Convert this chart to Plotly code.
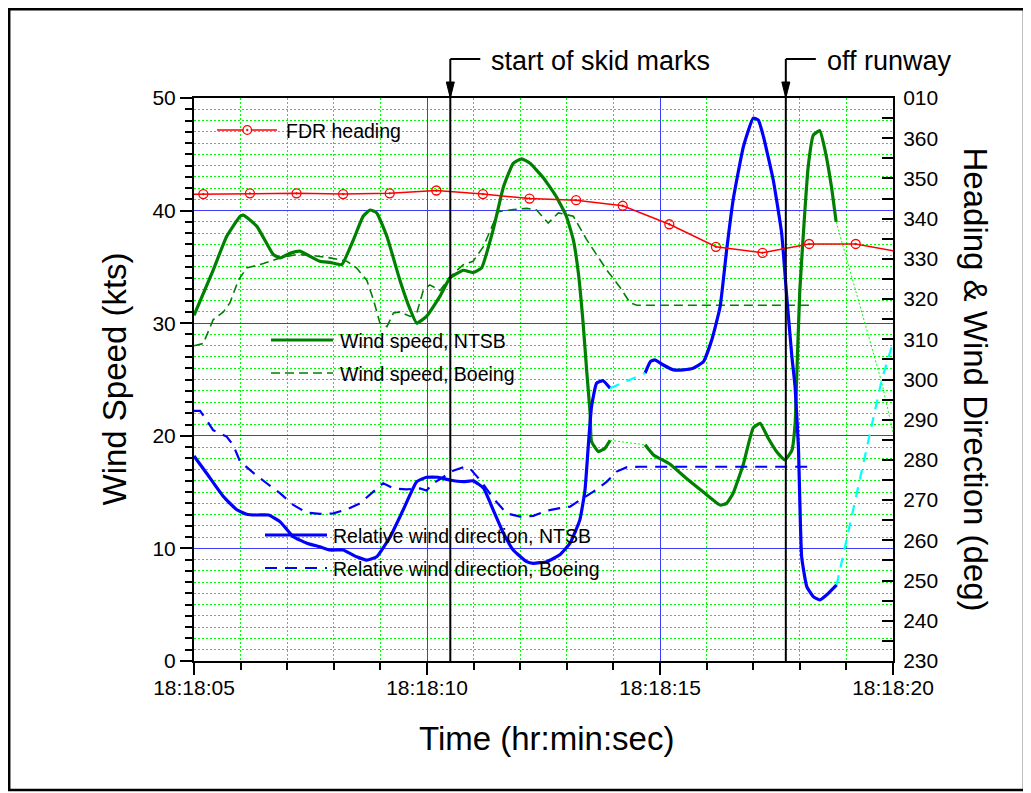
import plotly.graph_objects as go

# ---------------- data (time = seconds after 18:18:05) ----------------
x_tickvals = [0, 5, 10, 15]
x_ticktext = ["18:18:05", "18:18:10", "18:18:15", "18:18:20"]
y2_tickvals = list(range(230, 371, 10))
y2_ticktext = [str(v) for v in range(230, 361, 10)] + ["010"]

event_times = [5.5, 12.7]
event_labels = ["start of skid marks", "off runway"]

# FDR heading (deg, right axis)
fdr_t = [-0.8, 0.2, 1.2, 2.2, 3.2, 4.2, 5.2, 6.2, 7.2, 8.2, 9.2, 10.2, 11.2, 12.2, 13.2, 14.2, 15.2]
fdr_hdg = [346.0, 346.1, 346.3, 346.3, 346.1, 346.3, 347.0, 346.1, 345.0, 344.6, 343.2, 338.6,
           333.0, 331.5, 333.7, 333.7, 331.6]

# Wind speed, NTSB (kts, left axis) - two recorded segments
ntsb_spd_t1 = [0.0, 0.41, 0.70, 0.99, 1.06, 1.35, 1.70, 1.85, 2.06, 2.27, 2.42, 2.70, 2.92, 3.17,
               3.42, 3.63, 3.78, 3.92, 4.14, 4.42, 4.64, 4.78, 4.99, 5.28, 5.49, 5.78, 5.99, 6.17,
               6.42, 6.64, 6.85, 7.03, 7.21, 7.50, 7.78, 7.99, 8.14, 8.25, 8.35, 8.43, 8.50, 8.53,
               8.68, 8.82, 8.93]
ntsb_spd_1 = [30.7, 34.7, 37.7, 39.5, 39.6, 38.6, 36.1, 35.8, 36.2, 36.4, 36.1, 35.5, 35.4, 35.2,
              37.4, 39.5, 40.05, 39.8, 37.7, 33.8, 31.2, 30.0, 30.6, 32.4, 34.0, 34.7, 34.5, 34.9,
              38.3, 42.1, 44.2, 44.6, 44.2, 42.9, 41.2, 39.5, 37.4, 34.4, 30.0, 25.6, 22.0, 19.5,
              18.6, 18.9, 19.6]
ntsb_spd_t2 = [9.68, 9.86, 10.21, 10.57, 10.93, 11.29, 11.43, 11.57, 11.79, 12.0, 12.15, 12.32,
               12.50, 12.68, 12.83, 12.90, 12.93, 13.0, 13.11, 13.18, 13.29, 13.43, 13.54, 13.68, 13.78]
ntsb_spd_2 = [19.2, 18.3, 17.5, 16.2, 15.0, 13.85, 14.0, 14.9, 17.5, 20.7, 21.1, 19.8,
              18.6, 17.85, 18.7, 21.1, 24.7, 32.9, 40.05, 43.9, 46.7, 47.1, 45.4, 42.1, 39.0]
ntsb_spd_tail_t = [14.76, 15.1]
ntsb_spd_tail = [24.7, 18.5]

# Wind speed, Boeing (kts, left axis)
boe_spd_t = [0.0, 0.2, 0.41, 0.63, 0.77, 0.95, 1.13, 1.49, 1.85, 2.20, 2.56, 2.92, 3.28, 3.49,
             3.71, 3.85, 3.99, 4.14, 4.28, 4.42, 4.64, 4.78, 4.92, 5.06, 5.28, 5.49, 5.78, 5.99,
             6.21, 6.42, 6.53, 6.85, 7.14, 7.35, 7.60, 7.82, 8.14, 8.43, 8.86, 9.14, 9.36, 9.50, 13.22]
boe_spd = [28.0, 28.2, 30.3, 31.0, 31.8, 33.8, 34.9, 35.3, 35.8, 36.1, 36.0, 35.8, 35.5, 34.9,
           33.8, 32.1, 30.0, 29.7, 30.9, 31.0, 30.6, 30.9, 32.9, 33.4, 32.9, 34.1, 35.2, 35.5,
           36.8, 38.9, 39.9, 40.1, 40.2, 40.05, 38.9, 39.8, 39.5, 37.4, 34.7, 33.2, 31.8, 31.6, 31.6]

# Relative wind direction, NTSB (deg, right axis)
ntsb_dir_t1 = [0.0, 0.27, 0.63, 0.92, 1.13, 1.35, 1.60, 1.85, 2.13, 2.42, 2.70, 2.92, 3.20, 3.49,
               3.71, 3.92, 4.21, 4.49, 4.78, 4.99, 5.24, 5.49, 5.78, 5.99, 6.21, 6.42, 6.64, 6.85,
               7.14, 7.28, 7.57, 7.85, 8.07, 8.28, 8.39, 8.46, 8.53, 8.64, 8.78, 8.93]
ntsb_dir_1 = [281.0, 276.7, 270.9, 267.6, 266.5, 266.3, 266.3, 264.6, 260.9, 259.3, 258.4, 257.6,
              257.6, 255.9, 255.1, 255.9, 260.9, 267.6, 274.6, 275.7, 275.7, 275.0, 274.6, 274.8,
              273.0, 267.6, 261.8, 257.6, 254.7, 254.3, 254.7, 256.4, 259.3, 265.1, 272.5, 283.3,
              293.2, 299.1, 299.7, 297.8]
ntsb_dir_t2 = [9.68, 9.79, 9.89, 10.07, 10.29, 10.50, 10.71, 10.93, 11.11, 11.29, 11.43, 11.57,
               11.79, 12.0, 12.11, 12.22, 12.43, 12.61, 12.72, 12.83, 12.90, 12.97, 13.04, 13.15,
               13.29, 13.43, 13.61, 13.79]
ntsb_dir_2 = [301.6, 304.4, 304.9, 303.6, 302.4, 302.4, 302.8, 304.4, 309.8, 318.1, 332.2, 344.7,
              357.9, 365.0, 364.5, 360.4, 349.6, 336.4, 320.6, 305.7, 298.0, 283.3, 255.9, 248.5,
              246.0, 245.2, 246.8, 248.9]
ntsb_dir_tail_t = [14.76, 15.1]
ntsb_dir_tail = [300.0, 313.0]

# Relative wind direction, Boeing (deg, right axis)
boe_dir_t = [0.0, 0.13, 0.27, 0.41, 0.70, 0.84, 0.99, 1.28, 1.56, 1.85, 2.13, 2.42, 2.70, 2.99,
             3.28, 3.56, 3.85, 4.06, 4.28, 4.56, 4.85, 4.99, 5.14, 5.35, 5.56, 5.78, 5.92, 6.14,
             6.42, 6.71, 7.0, 7.28, 7.57, 7.85, 8.07, 8.28, 8.57, 8.86, 9.07, 9.29, 9.57, 13.33]
boe_dir = [292.2, 292.2, 289.9, 287.4, 285.8, 283.7, 279.6, 276.7, 274.2, 271.7, 268.8, 266.9,
           266.6, 266.7, 267.7, 269.2, 272.1, 274.2, 272.9, 272.7, 272.9, 272.4, 274.2, 275.8,
           277.3, 278.2, 277.9, 275.0, 270.5, 266.7, 265.9, 266.1, 267.4, 268.0, 268.4, 270.0,
           272.1, 274.6, 277.1, 278.2, 278.3, 278.3]

# ---------------- layout geometry ----------------
# the page body has an 8 px margin, so the figure is 8 px smaller and offset by 8 px
OFF = 8
X0, X1, Y0, Y1 = 194, 893, 98, 661          # plot area in screenshot pixels
W, H = 1031 - OFF, 793 - OFF
ML, MT = X0 - OFF, Y0 - OFF
MR, MB = W - (X1 - OFF), H - (Y1 - OFF)
PW, PH = X1 - X0, Y1 - Y0
FONT = "Liberation Sans, Arial, sans-serif"


def px_x(x):
    return (x - X0) / PW


def px_y(y):
    return (Y1 - y) / PH


GREEN = "#008000"
BLUE = "#0000FF"
RED = "#FF0000"
CYAN = "#00FFFF"
LIME = "#00FF00"

fig = go.Figure()

# left-axis traces
fig.add_trace(go.Scatter(x=boe_spd_t, y=boe_spd, mode="lines",
                         line=dict(color=GREEN, width=1.6, dash="9px,5px")))
fig.add_trace(go.Scatter(x=ntsb_spd_t1 + [None] + ntsb_spd_t2, y=ntsb_spd_1 + [None] + ntsb_spd_2,
                         mode="lines", line=dict(color=GREEN, width=3.2, shape="spline", smoothing=0.4)))
fig.add_trace(go.Scatter(x=[ntsb_spd_t1[-1], ntsb_spd_t2[0], None, ntsb_spd_t2[-1]] + ntsb_spd_tail_t,
                         y=[ntsb_spd_1[-1], ntsb_spd_2[0], None, ntsb_spd_2[-1]] + ntsb_spd_tail,
                         mode="lines", line=dict(color=LIME, width=1, dash="2px,2px")))

# right-axis traces
fig.add_trace(go.Scatter(x=boe_dir_t, y=boe_dir, mode="lines", yaxis="y2",
                         line=dict(color=BLUE, width=2.2, dash="12px,8px")))
fig.add_trace(go.Scatter(x=ntsb_dir_t1 + [None] + ntsb_dir_t2, y=ntsb_dir_1 + [None] + ntsb_dir_2,
                         mode="lines", yaxis="y2",
                         line=dict(color=BLUE, width=3.2, shape="spline", smoothing=0.4)))
fig.add_trace(go.Scatter(x=[ntsb_dir_t1[-1], ntsb_dir_t2[0], None, ntsb_dir_t2[-1]] + ntsb_dir_tail_t,
                         y=[ntsb_dir_1[-1], ntsb_dir_2[0], None, ntsb_dir_2[-1]] + ntsb_dir_tail,
                         mode="lines", yaxis="y2", line=dict(color=CYAN, width=2.2, dash="10px,8px")))
fig.add_trace(go.Scatter(x=fdr_t, y=fdr_hdg, mode="lines+markers", yaxis="y2",
                         line=dict(color=RED, width=1.5),
                         marker=dict(symbol="circle-open-dot", size=9, color=RED, line=dict(width=1.3))))

axis_common = dict(showline=True, linecolor="black", linewidth=2, ticks="outside",
                   tickcolor="black", tickwidth=2, ticklen=12, zeroline=False,
                   tickfont=dict(family=FONT, size=21, color="black"),
                   showgrid=True, gridcolor="#3C3CFF", gridwidth=1)

shapes = []
annotations = []

# event markers
for t, lab in zip(event_times, event_labels):
    shapes.append(dict(type="line", xref="x", yref="paper", x0=t, x1=t, y0=0, y1=px_y(59),
                       line=dict(color="black", width=2)))
    shapes.append(dict(type="line", xref="x", xsizemode="pixel", xanchor=t, x0=0, x1=30,
                       yref="paper", y0=px_y(59), y1=px_y(59), line=dict(color="black", width=2)))
    shapes.append(dict(type="path", xref="x", xsizemode="pixel", xanchor=t,
                       yref="paper", ysizemode="pixel", yanchor=1,
                       path="M -4,16 L 4,16 L 0,0 Z", fillcolor="black",
                       line=dict(color="black", width=1)))
    annotations.append(dict(text=lab, xref="x", x=t, xshift=39, xanchor="left",
                            yref="paper", y=px_y(61), yanchor="middle", showarrow=False,
                            font=dict(family=FONT, size=27, color="black")))

# in-plot legend
legend_items = [
    ("FDR heading", RED, 1.5, "solid", 217, 277, 130, 286),
    ("Wind speed, NTSB", GREEN, 3.2, "solid", 271, 333, 340, 340),
    ("Wind speed, Boeing", GREEN, 1.6, "9px,5px", 271, 333, 373, 340),
    ("Relative wind direction, NTSB", BLUE, 3.2, "solid", 265, 327, 535, 333),
    ("Relative wind direction, Boeing", BLUE, 2.2, "12px,8px", 265, 327, 568, 333),
]
for lab, col, lw, dash, xa, xb, yy, xt in legend_items:
    shapes.append(dict(type="line", xref="paper", yref="paper", x0=px_x(xa), x1=px_x(xb),
                       y0=px_y(yy), y1=px_y(yy), line=dict(color=col, width=lw, dash=dash)))
    annotations.append(dict(text=lab, xref="paper", yref="paper", x=px_x(xt - 2), y=px_y(yy + 1),
                            xanchor="left", yanchor="middle", showarrow=False,
                            font=dict(family=FONT, size=19.5, color="black")))
# FDR legend marker (open circle with centre dot)
shapes.append(dict(type="circle", xref="paper", yref="paper", x0=px_x(243), x1=px_x(251.5),
                   y0=px_y(134.3), y1=px_y(125.7), fillcolor="white", line=dict(color=RED, width=1.3)))
shapes.append(dict(type="circle", xref="paper", yref="paper", x0=px_x(246.3), x1=px_x(248.2),
                   y0=px_y(131), y1=px_y(129), fillcolor=RED, line=dict(color=RED, width=0.5)))

# outer frame
shapes.append(dict(type="rect", xref="paper", yref="paper", x0=px_x(9.2), x1=px_x(1024),
                   y0=px_y(790), y1=px_y(9.2), line=dict(color="black", width=2.5)))

# axis titles
annotations.append(dict(text="Wind Speed (kts)", xref="paper", yref="paper", x=px_x(114), y=0.5,
                        textangle=-90, showarrow=False, xanchor="center", yanchor="middle",
                        font=dict(family=FONT, size=33, color="black")))
annotations.append(dict(text="Heading & Wind Direction (deg)", xref="paper", yref="paper",
                        x=px_x(975), y=0.5, textangle=90, showarrow=False,
                        xanchor="center", yanchor="middle",
                        font=dict(family=FONT, size=33, color="black")))
annotations.append(dict(text="Time (hr:min:sec)", xref="paper", yref="paper", x=px_x(546),
                        y=px_y(738), showarrow=False, xanchor="center", yanchor="middle",
                        font=dict(family=FONT, size=33, color="black")))

fig.update_layout(
    width=W, height=H, autosize=False,
    margin=dict(l=ML, r=MR, t=MT, b=MB, pad=0),
    paper_bgcolor="white", plot_bgcolor="white",
    showlegend=False,
    font=dict(family=FONT, color="black"),
    xaxis=dict(range=[0, 15], tickvals=x_tickvals, ticktext=x_ticktext, mirror=True,
               ticklabelstandoff=-5,
               minor=dict(tick0=0, dtick=1, ticks="outside", ticklen=7, tickwidth=2,
                          tickcolor="black", showgrid=True, gridcolor=LIME,
                          griddash="2px,2px", gridwidth=1),
               **axis_common),
    yaxis=dict(range=[0, 50], tick0=0, dtick=10, ticklabelstandoff=0,
               minor=dict(tick0=0, dtick=1, ticks="outside", ticklen=7, tickwidth=2,
                          tickcolor="black", showgrid=True, gridcolor=LIME,
                          griddash="2px,2px", gridwidth=1),
               **axis_common),
    yaxis2=dict(range=[230, 370], overlaying="y", side="right", tickvals=y2_tickvals,
                ticktext=y2_ticktext, showline=True, linecolor="black", linewidth=2,
                ticks="inside", ticklen=11, tickwidth=2, tickcolor="black",
                ticklabelstandoff=4, showgrid=False, zeroline=False,
                tickfont=dict(family=FONT, size=21, color="black"),
                minor=dict(tick0=230, dtick=5, ticks="inside", ticklen=11, tickwidth=2,
                           tickcolor="black", showgrid=False)),
    shapes=shapes,
    annotations=annotations,
)

fig.write_html("out.html")
